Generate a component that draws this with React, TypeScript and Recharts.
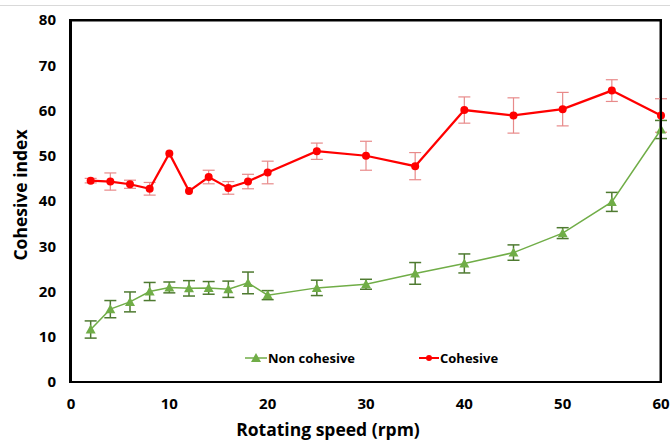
import { LineChart, Line, XAxis, YAxis, ErrorBar, ReferenceLine } from "recharts";

// Rotating speed (rpm)
const speeds = [2, 4, 6, 8, 10, 12, 14, 16, 18, 20, 25, 30, 35, 40, 45, 50, 55, 60];
const nonCohesive = [11.6, 16.1, 17.7, 20.0, 20.9, 20.7, 20.8, 20.5, 21.9, 19.2, 20.8, 21.6, 24.0, 26.2, 28.6, 32.9, 39.8, 55.8];
const nonCohesiveErr = [1.9, 1.9, 2.2, 2.0, 1.2, 1.7, 1.4, 1.8, 2.4, 1.0, 1.7, 1.1, 2.4, 2.1, 1.7, 1.2, 2.1, 2.0];
const cohesive = [44.5, 44.3, 43.7, 42.7, 50.5, 42.2, 45.3, 42.9, 44.3, 46.3, 51.0, 50.0, 47.7, 60.1, 58.9, 60.3, 64.4, 58.9];
const cohesiveErr = [0.5, 1.9, 0.9, 1.4, 0, 0, 1.5, 1.4, 1.6, 2.5, 1.8, 3.2, 3.0, 2.9, 3.9, 3.7, 2.4, 3.7];

const xTicks = [0, 10, 20, 30, 40, 50, 60];
const yTicks = [0, 10, 20, 30, 40, 50, 60, 70, 80];

const data = speeds.map((s, i) => ({
  speed: s,
  non: nonCohesive[i],
  nonErr: nonCohesiveErr[i],
  coh: cohesive[i],
  cohErr: cohesiveErr[i],
}));

const FONT = "'Open Sans', sans-serif";
const GREEN = "#70ad47";
const RED = "#ff0000";

const Triangle = (props: any) => {
  const { cx, cy } = props;
  if (cx == null || cy == null) return null;
  const r = 5;
  return (
    <polygon
      points={`${cx},${cy - r} ${cx - r},${cy + r * 0.8} ${cx + r},${cy + r * 0.8}`}
      fill={GREEN}
    />
  );
};

const LegendBox = () => (
  <div
    style={{
      position: "absolute",
      left: 245,
      top: 349,
      display: "flex",
      fontFamily: FONT,
      fontWeight: 700,
      fontSize: 13,
      color: "#000",
    }}
  >
    <div style={{ display: "flex", alignItems: "center", width: 174 }}>
      <svg width={22} height={12}>
        <line x1={0} y1={6} x2={22} y2={6} stroke={GREEN} strokeWidth={1.5} />
        <polygon points="11,1 6,10 16,10" fill={GREEN} />
      </svg>
      <span style={{ marginLeft: 1 }}>Non cohesive</span>
    </div>
    <div style={{ display: "flex", alignItems: "center" }}>
      <svg width={20} height={12}>
        <line x1={0} y1={6} x2={20} y2={6} stroke={RED} strokeWidth={2} />
        <circle cx={10} cy={6} r={3} fill={RED} />
      </svg>
      <span style={{ marginLeft: 1 }}>Cohesive</span>
    </div>
  </div>
);

export default function App() {
  const tick = { fontFamily: FONT, fontWeight: 700, fontSize: 15, fill: "#000" };
  return (
    <div style={{ position: "absolute", left: 0, top: 0, width: 670, height: 443, background: "#fff" }}>
      <div style={{ position: "absolute", left: 0, top: 5, width: 670, height: 1, background: "#d9d9d9" }} />
      <LineChart width={670} height={443} data={data} margin={{ top: 20, right: 9, left: 0, bottom: 0 }}>
        <XAxis
          dataKey="speed"
          type="number"
          domain={[0, 60]}
          ticks={xTicks}
          tickLine={false}
          tickSize={0}
          tickMargin={16}
          axisLine={{ stroke: "#000", strokeWidth: 2 }}
          tick={tick}
          height={61}
          label={{
            value: "Rotating speed (rpm)",
            position: "insideBottom",
            offset: 7,
            dx: -38,
            style: { fontFamily: FONT, fontWeight: 700, fontSize: 17.5, fill: "#000" },
          }}
        />
        <YAxis
          type="number"
          domain={[0, 80]}
          ticks={yTicks}
          tickLine={false}
          tickSize={0}
          tickMargin={15}
          axisLine={{ stroke: "#000", strokeWidth: 2 }}
          tick={tick}
          width={71}
          label={{
            value: "Cohesive index",
            angle: -90,
            position: "insideLeft",
            dx: 16,
            dy: -6,
            textAnchor: "middle",
            style: { fontFamily: FONT, fontWeight: 700, fontSize: 17.5, fill: "#000", textAnchor: "middle" },
          }}
        />
        {/* plot frame: top and right edges */}
        <ReferenceLine y={79.9} stroke="#000" strokeWidth={2} ifOverflow="extendDomain" />
        <ReferenceLine x={59.95} stroke="#000" strokeWidth={2} ifOverflow="extendDomain" />
        <Line
          dataKey="non"
          stroke={GREEN}
          strokeWidth={1.5}
          dot={<Triangle />}
          activeDot={false}
          isAnimationActive={false}
        >
          <ErrorBar dataKey="nonErr" direction="y" width={6} stroke="#4e7a30" strokeWidth={1.5} />
        </Line>
        <Line
          dataKey="coh"
          stroke={RED}
          strokeWidth={2.25}
          dot={{ r: 4, fill: RED, stroke: RED, strokeWidth: 0 }}
          activeDot={false}
          isAnimationActive={false}
        >
          <ErrorBar dataKey="cohErr" direction="y" width={6} stroke="#e88a8a" strokeWidth={1.2} />
        </Line>
      </LineChart>
      <LegendBox />
      <svg
        width={670}
        height={443}
        style={{ position: "absolute", left: 0, top: 0, pointerEvents: "none", zIndex: 5 }}
      >
        <rect x={70} y={20} width={591} height={362} fill="none" stroke="#000" strokeWidth={2} />
      </svg>
    </div>
  );
}
